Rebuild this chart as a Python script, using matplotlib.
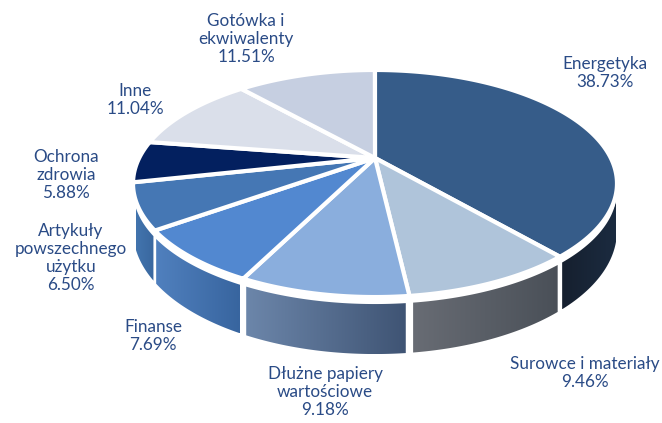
import numpy as np
import matplotlib
matplotlib.use("Agg")
import matplotlib.pyplot as plt
from matplotlib.patches import Polygon
from matplotlib.colors import to_rgb

categories = ["Energetyka", "Surowce i materiały", "Dłużne papiery\nwartościowe", "Finanse",
              "Artykuły\npowszechnego\nużytku", "Ochrona\nzdrowia", "Inne", "Gotówka i\nekwiwalenty"]
values = [38.73, 9.46, 9.18, 7.69, 6.50, 5.88, 11.04, 11.51]
top_colors = ["#365C89", "#AFC4DA", "#8AAEDD", "#5288D0", "#4577B4", "#03205F", "#DADFEA", "#C6CFE1"]
wall_left = ["#16202F", "#686C74", "#6C86AA", "#5080BE", "#4274AE", None, None, None]
wall_right = ["#1B2B40", "#4A5058", "#3F5474", "#38659F", "#3A689F", None, None, None]
label_pos = [(605, 73), (585, 373), (325, 392), (153, 336), (71, 258), (66, 175), (135, 100), (246, 39)]

CX, CY = 375.0, 158.0
A, B, K = 235.8, 107.8, -0.2247
DEPTH_TOP = 7.0
DEPTH_BOT_BASE, DEPTH_BOT_FRONT = 44.0, 13.0
GAP = 0.7
WALL_LIMIT = (108.0, 249.0)
TEXT = "#2A4B86"


def rim(theta):
    t = np.radians(theta)
    X, Y = np.sin(t), -np.cos(t)
    d = 1 + K * Y
    return CX + A * X / d, CY + B * Y / d


fig = plt.figure(figsize=(6.62, 4.23), dpi=100)
ax = fig.add_axes([0, 0, 1, 1])
ax.axis("off")

bounds = np.concatenate([[0], np.cumsum(values)]) * 3.6

for i, (a, b) in enumerate(zip(bounds[:-1], bounds[1:])):
    if wall_left[i] is None:
        continue
    lo = max(a + GAP, WALL_LIMIT[0])
    hi = min(b - GAP, WALL_LIMIT[1])
    ts = np.linspace(lo, hi, 100)
    x, y = rim(ts)
    depth = DEPTH_BOT_BASE + DEPTH_BOT_FRONT * (-np.cos(np.radians(ts)))
    lower = y + depth
    pts = np.r_[np.c_[x, y + DEPTH_TOP], np.c_[x[::-1], lower[::-1]]]
    cl, cr = np.array(to_rgb(wall_left[i])), np.array(to_rgb(wall_right[i]))
    grad = cl + (cr - cl) * np.linspace(0, 1, 256)[:, None]
    im = ax.imshow(grad[None, :, :], extent=[pts[:, 0].min(), pts[:, 0].max(),
                                             pts[:, 1].max(), pts[:, 1].min()],
                   aspect="auto", interpolation="bilinear", zorder=2)
    im.set_clip_path(Polygon(pts, closed=True, transform=ax.transData))

ax.set_xlim(0, 662)
ax.set_ylim(423, 0)

for i, (a, b) in enumerate(zip(bounds[:-1], bounds[1:])):
    x, y = rim(np.linspace(a, b, 120))
    pts = np.r_[[[CX, CY]], np.c_[x, y]]
    ax.add_patch(Polygon(pts, closed=True, fc=top_colors[i], ec="white", lw=3.0,
                         joinstyle="miter", zorder=3))

for name, v, (px, py) in zip(categories, values, label_pos):
    ax.text(px, py, f"{name}\n{v:.2f}%", ha="center", va="center", color=TEXT,
            fontsize=12.3, family="Lato", linespacing=1.15, zorder=5)

fig.savefig("out.png", dpi=100)
